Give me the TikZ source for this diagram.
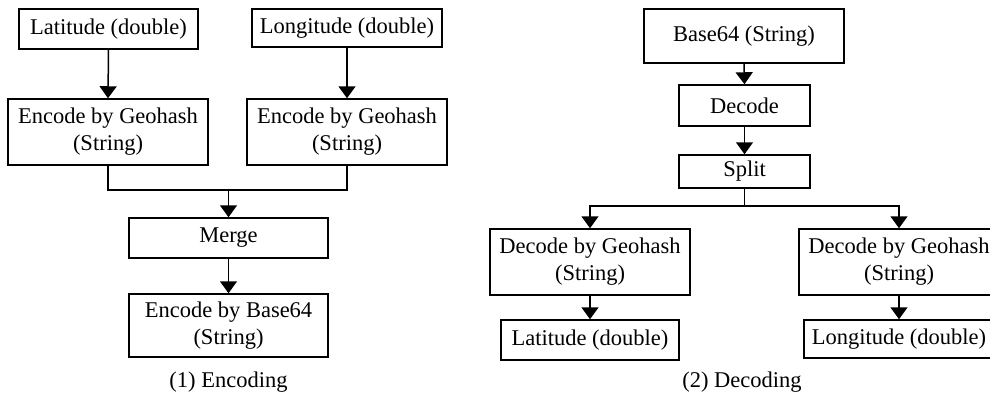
\documentclass[tikz,border=0pt]{standalone}
\usepackage{fontspec}
\setmainfont{Liberation Serif}
\usetikzlibrary{arrows.meta}
\tikzset{
  box/.style={draw, line width=1.5pt, inner sep=0pt, align=center, font=\fontsize{22.5}{27}\selectfont},
  arr/.style={line width=1.5pt, -{Triangle[width=17pt,length=12pt]}},
  ln/.style={line width=1.5pt},
  captxt/.style={inner sep=0pt, font=\fontsize{22.5}{27}\selectfont}
}
\begin{document}
\begin{tikzpicture}[x=1pt,y=-1pt]
\useasboundingbox (0,0) rectangle (990,396);
\clip (0,0) rectangle (990,396);
% Encoding
\node[box, minimum width=179pt, minimum height=40pt] (lat1) at (108.5,29) {Latitude (double)};
\node[box, minimum width=190pt, minimum height=38pt] (lon1) at (347,28) {Longitude (double)};
\node[box, minimum width=200pt, minimum height=66pt] (encL) at (108,132) {Encode by Geohash\\(String)};
\node[box, minimum width=200pt, minimum height=66pt] (encR) at (347,132) {Encode by Geohash\\(String)};
\node[box, minimum width=199pt, minimum height=40pt] (merge) at (228.5,238) {Merge};
\node[box, minimum width=199pt, minimum height=63pt] (b64) at (228.5,325.5) {Encode by Base64\\(String)};
\node[captxt] (cap1) at (228.5,382) {(1) Encoding};
\coordinate (j1) at (228.5,190);
\draw[arr] (lat1.south) -- (encL.north);
\draw[arr] (lon1.south) -- (encR.north);
\draw[ln] (encL.south) |- (j1) -| (encR.south);
\draw[arr] (j1) -- (merge.north);
\draw[arr] (merge.south) -- (b64.north);
% Decoding
\node[box, minimum width=200pt, minimum height=54pt] (base) at (744,36) {Base64 (String)};
\node[box, minimum width=131pt, minimum height=41pt] (dec) at (744.5,105.5) {Decode};
\node[box, minimum width=131pt, minimum height=33pt] (split) at (744.5,171.5) {Split};
\node[box, minimum width=200pt, minimum height=66pt] (dgL) at (590,262) {Decode by Geohash\\(String)};
\node[box, minimum width=200pt, minimum height=66pt] (dgR) at (899,262) {Decode by Geohash\\(String)};
\node[box, minimum width=178pt, minimum height=40pt] (latR) at (590,340) {Latitude (double)};
\node[box, minimum width=190pt, minimum height=38pt] (lonR) at (899,339) {Longitude (double)};
\node[captxt] (cap2) at (742,382) {(2) Decoding};
\coordinate (j2) at (744.5,206);
\draw[arr] (base.south) -- (dec.north);
\draw[arr] (dec.south) -- (split.north);
\draw[ln] (split.south) -- (j2);
\draw[arr] (j2) -| (dgL.north);
\draw[arr] (j2) -| (dgR.north);
\draw[arr] (dgL.south) -- (latR.north);
\draw[arr] (dgR.south) -- (lonR.north);
\end{tikzpicture}
\end{document}
